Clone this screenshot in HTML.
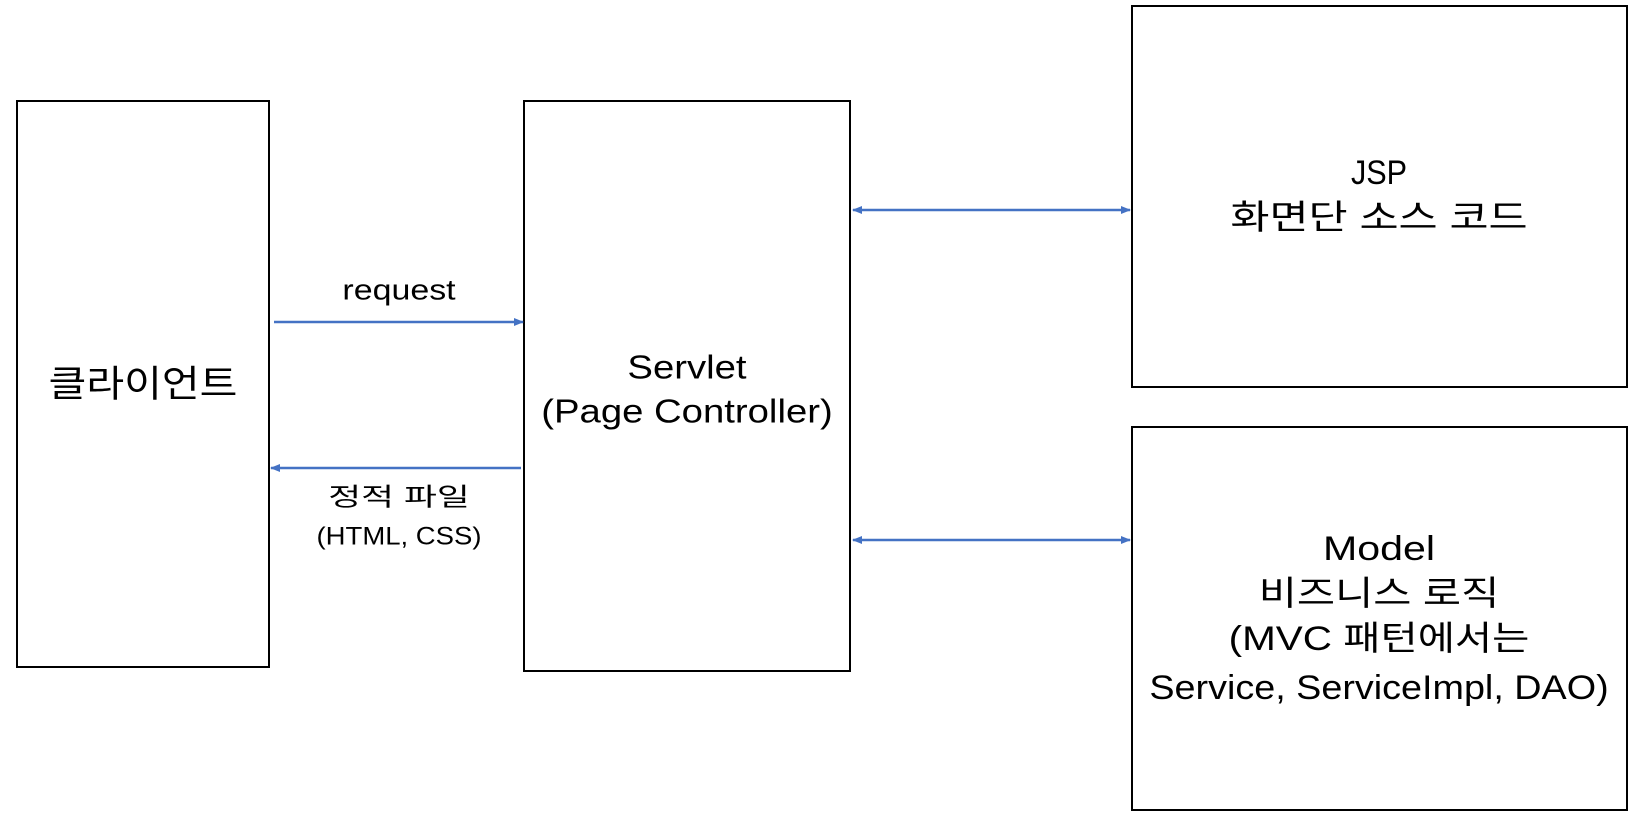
<!DOCTYPE html>
<html><head><meta charset="utf-8"><style>
body{margin:0;width:1635px;height:817px;background:#fff;overflow:hidden;position:relative;font-family:"Liberation Sans","Noto Sans CJK KR",sans-serif;color:#000}
.b{position:absolute;border:2px solid #000;box-sizing:border-box}
.t{position:absolute;text-align:center;white-space:nowrap;line-height:1}
</style></head><body>
<div class="b" style="left:16px;top:100px;width:254px;height:568px"></div>
<div class="b" style="left:523px;top:100px;width:328px;height:572px"></div>
<div class="b" style="left:1131px;top:5px;width:497px;height:383px"></div>
<div class="b" style="left:1131px;top:426px;width:497px;height:385px"></div>
<svg width="1635" height="817" style="position:absolute;left:0;top:0">
<defs><marker id="a" markerWidth="10" markerHeight="10" refX="9" refY="5" orient="auto-start-reverse" markerUnits="userSpaceOnUse"><path d="M0,1L10,5L0,9z" fill="#4472C4"/></marker></defs>
<g stroke="#4472C4" stroke-width="2.5" fill="none">
<line x1="274" y1="322" x2="523" y2="322" marker-end="url(#a)"/>
<line x1="521" y1="468" x2="271" y2="468" marker-end="url(#a)"/>
<line x1="853" y1="210" x2="1130" y2="210" marker-start="url(#a)" marker-end="url(#a)"/>
<line x1="853" y1="540" x2="1130" y2="540" marker-start="url(#a)" marker-end="url(#a)"/>
</g></svg>
<div class="t" style="left:143px;top:384px;font-size:37px;transform:translate(-50%,-50%) scaleX(1.11)">클라이언트</div>
<div class="t" style="left:399px;top:291px;font-size:29px;transform:translate(-50%,-50%) scaleX(1.17)">request</div>
<div class="t" style="left:399px;top:498px;font-size:25px;transform:translate(-50%,-50%) scaleX(1.43)">정적 파일</div>
<div class="t" style="left:399px;top:537px;font-size:25px;transform:translate(-50%,-50%) scaleX(1.1)">(HTML, CSS)</div>
<div class="t" style="left:687px;top:367px;font-size:33px;transform:translate(-50%,-50%) scaleX(1.16)">Servlet</div>
<div class="t" style="left:687px;top:411px;font-size:33px;transform:translate(-50%,-50%) scaleX(1.16)">(Page Controller)</div>
<div class="t" style="left:1379px;top:173px;font-size:34px;transform:translate(-50%,-50%) scaleX(0.9)">JSP</div>
<div class="t" style="left:1379px;top:218px;font-size:34px;transform:translate(-50%,-50%) scaleX(1.25)">화면단 소스 코드</div>
<div class="t" style="left:1379px;top:549px;font-size:34px;transform:translate(-50%,-50%) scaleX(1.21)">Model</div>
<div class="t" style="left:1379px;top:594px;font-size:34px;transform:translate(-50%,-50%) scaleX(1.22)">비즈니스 로직</div>
<div class="t" style="left:1379px;top:639px;font-size:34px;transform:translate(-50%,-50%) scaleX(1.19)">(MVC 패턴에서는</div>
<div class="t" style="left:1379px;top:688px;font-size:34px;transform:translate(-50%,-50%) scaleX(1.11)">Service, ServiceImpl, DAO)</div>
</body></html>
